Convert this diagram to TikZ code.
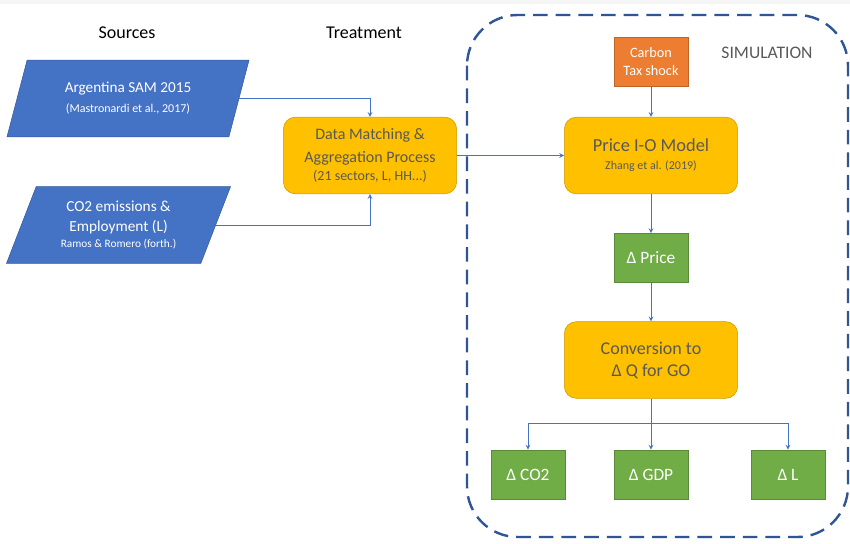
\documentclass[tikz,border=0pt]{standalone}
\usepackage{fontspec}
\setmainfont{Carlito}
\usetikzlibrary{arrows, shapes.geometric, positioning}
\definecolor{srcblue}{HTML}{4472C4}
\definecolor{procyellow}{HTML}{FFC000}
\definecolor{shockorange}{HTML}{ED7D31}
\definecolor{outgreen}{HTML}{70AD47}
\definecolor{frameblue}{HTML}{2F5597}
\definecolor{textgray}{HTML}{595959}
\tikzset{
    x=0.75pt, y=-0.75pt, % one unit is one pixel of the reference
    >=stealth, % small filled arrow heads
    link/.style={draw=srcblue, line width=0.6pt}, % connectors between boxes
    source/.style={trapezium, trapezium left angle=58, trapezium right angle=122,
        trapezium stretches body, fill=srcblue, draw=srcblue!80!black, line width=0.4pt,
        text=white, align=center, inner sep=0pt}, % input data sets
    process/.style={rectangle, rounded corners=9pt, fill=procyellow, draw=procyellow!80!black,
        line width=0.4pt, text=textgray, align=center, minimum width=130pt, minimum height=57.5pt},
    shockbox/.style={rectangle, fill=shockorange, draw=shockorange!80!black, line width=0.4pt,
        text=white, align=center, minimum width=55.5pt, minimum height=37pt, inner sep=0pt},
    result/.style={rectangle, fill=outgreen, draw=outgreen!80!black, line width=0.4pt,
        text=white, minimum width=55.5pt, minimum height=37pt, font=\fontsize{13}{15}\selectfont},
    heading/.style={font=\fontsize{13.5}{16}\selectfont},
}
\begin{document}
\begin{tikzpicture}
    \useasboundingbox (0,0) rectangle (850,543);
    \fill[white] (0,0) rectangle (850,543);
    \fill[black!4] (0,0) rectangle (850,4);

    % column headings
    \node[heading] (srchead) at (127,33) {Sources};
    \node[heading] (trthead) at (364,33) {Treatment};

    % sources
    \node[source, minimum width=181.5pt, minimum height=57.5pt,
          font=\fontsize{11.4}{15}\selectfont] (sam) at (128,98.5)
        {Argentina SAM 2015\\
         {\fontsize{9}{11}\selectfont (Mastronardi et al., 2017)}};
    \node[source, minimum width=168pt, minimum height=57.5pt,
          font=\fontsize{11.5}{15}\selectfont] (emis) at (118.5,225)
        {CO2 emissions \&\\ Employment (L)\\[-3.5pt]
         {\fontsize{8.5}{10}\selectfont Ramos \& Romero (forth.)}};

    % treatment
    \node[process, font=\fontsize{12}{17}\selectfont] (match) at (370,155.5)
        {Data Matching \&\\ Aggregation Process\\[-3pt]
         {\fontsize{10.5}{12}\selectfont (21 sectors, L, HH...)}};

    % simulation block
    \draw[frameblue, line width=1.8pt, dash pattern=on 11pt off 6pt, rounded corners=38pt]
        (467,15) rectangle (848,537);
    \node[text=textgray, font=\fontsize{13.2}{16}\selectfont] (simlabel) at (767,53) {SIMULATION};

    \node[shockbox, font=\fontsize{10.7}{13}\selectfont] (shock) at (651,61.5)
        {Carbon\\ Tax shock};
    \node[process, font=\fontsize{13.8}{13.5}\selectfont] (priceio) at (651,155.5)
        {Price I-O Model\\
         {\fontsize{9}{11}\selectfont Zhang et al. (2019)}};
    \node[result] (dprice) at (651,258) {Δ Price};
    \node[process, font=\fontsize{13.5}{16.5}\selectfont] (conv) at (651,360)
        {Conversion to\\ Δ Q for GO};
    \node[result] (dco) at (528,474.5) {Δ CO2};
    \node[result] (dgdp) at (651,474.5) {Δ GDP};
    \node[result] (dl) at (788,474.5) {Δ L};
    \coordinate (split) at (651,423);

    % connectors
    \draw[link, ->] (sam.east) -| (match.north);
    \draw[link, ->] (emis.east) -| (match.south);
    \draw[link, ->] (match.east) -- (priceio.west);
    \draw[link, ->] (shock.south) -- (priceio.north);
    \draw[link, ->] (priceio.south) -- (dprice.north);
    \draw[link, ->] (dprice.south) -- (conv.north);
    \draw[link] (conv.south) -- (split);
    \draw[link, ->] (split) -| (dco.north);
    \draw[link, ->] (split) -- (dgdp.north);
    \draw[link, ->] (split) -| (dl.north);
\end{tikzpicture}
\end{document}
